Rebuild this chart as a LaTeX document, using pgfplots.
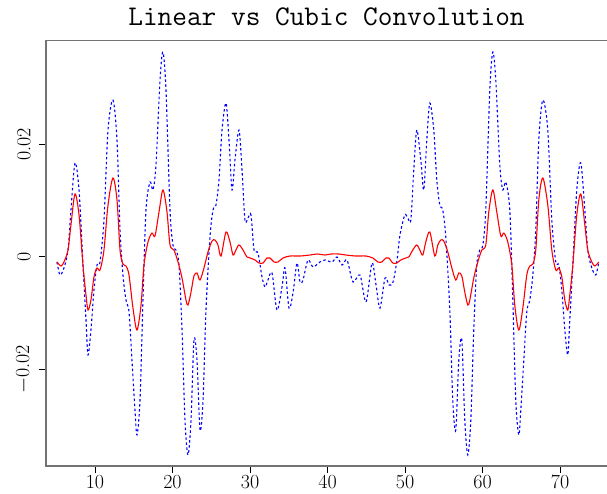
\documentclass[border=0pt]{standalone}
\usepackage{fontspec}
\usepackage{pgfplots}
\pgfplotsset{compat=1.18}
\begin{document}
\begin{tikzpicture}
\begin{axis}[
  name=ax,
  scale only axis,
  width=561pt, height=425.3pt,
  xmin=3.68, xmax=76.06,
  ymin=-0.03721, ymax=0.0384,
  axis line style={draw=none},
  tick pos=left,
  tick align=outside,
  major tick length=7pt,
  tick style={black, line width=0.9pt},
  xtick={10,20,30,40,50,60,70},
  ytick={-0.02,0,0.02},
  yticklabels={$-$0.02,0,0.02},
  scaled y ticks=false,
  /pgf/number format/assume math mode=true,
  ticklabel style={font=\fontsize{20}{24}\selectfont},
  xticklabel style={anchor=north, inner sep=0pt, yshift=-2pt},
  yticklabel style={xshift=-8pt, rotate=90, anchor=south, inner sep=0pt},
  clip=false,
]
\addplot[blue, line width=1.1pt, dash pattern=on 2.5pt off 2.5pt, smooth, tension=0.5] coordinates {
(5.10,-0.00094)(5.48,-0.00325)(6.00,-0.00201)(6.52,0.00119)(6.90,0.00830)(7.42,0.01666)(7.94,0.01186)(8.45,-0.00148)(8.84,-0.01125)(9.10,-0.01747)(9.48,-0.01303)(9.87,-0.00592)(10.26,-0.00148)(10.65,-0.00094)(11.16,0.00652)(11.68,0.02252)(12.32,0.02785)(12.84,0.02074)(13.23,0.00475)(13.61,-0.00325)(14.00,-0.00770)(14.39,-0.00983)(14.77,-0.01836)(15.16,-0.02725)(15.42,-0.03169)(15.81,-0.02548)(16.19,-0.00770)(16.58,0.00830)(17.10,0.01328)(17.48,0.01186)(17.87,0.01630)(18.39,0.03141)(18.77,0.03639)(19.16,0.02964)(19.68,0.00830)(20.06,0.00208)(20.45,0.00119)(20.84,-0.00148)(21.23,-0.01303)(21.61,-0.02903)(22.00,-0.03525)(22.39,-0.02903)(22.77,-0.01481)(23.16,-0.01836)(23.55,-0.03080)(23.94,-0.02548)(24.32,-0.00948)(24.84,0.00350)(25.23,0.00830)(25.61,0.00919)(26.00,0.01363)(26.39,0.02252)(26.90,0.02732)(27.29,0.02074)(27.68,0.01186)(28.06,0.01719)(28.58,0.02252)(28.97,0.01541)(29.35,0.00652)(29.74,0.00688)(30.13,0.00741)(30.52,0.00119)(31.03,0.00066)(31.55,-0.00361)(31.94,-0.00539)(32.32,-0.00414)(32.84,-0.00290)(33.48,-0.00948)(34.13,-0.00539)(34.52,-0.00201)(35.03,-0.00914)(35.55,-0.00645)(36.06,-0.00112)(36.45,-0.00450)(36.84,-0.00414)(37.48,-0.00059)(38.13,-0.00183)(39.03,-0.00094)(39.68,-0.00059)(40.58,-0.00094)(41.23,-0.00005)(41.87,-0.00148)(42.52,-0.00059)(43.29,-0.00450)(44.19,-0.00325)(44.97,-0.00805)(45.74,-0.00112)(46.26,-0.00503)(46.77,-0.00914)(47.42,-0.00379)(47.94,-0.00503)(48.45,-0.00450)(48.97,-0.00059)(49.35,0.00386)(49.97,0.00741)(50.36,0.00688)(50.75,0.00652)(51.13,0.01541)(51.52,0.02252)(52.04,0.01719)(52.42,0.01186)(52.81,0.02074)(53.20,0.02732)(53.71,0.02252)(54.10,0.01363)(54.49,0.00919)(54.87,0.00830)(55.26,0.00350)(55.78,-0.00948)(56.16,-0.02548)(56.55,-0.03080)(56.94,-0.01836)(57.33,-0.01481)(57.71,-0.02903)(58.10,-0.03525)(58.49,-0.02903)(58.87,-0.01303)(59.26,-0.00148)(59.65,0.00119)(60.04,0.00208)(60.42,0.00830)(60.94,0.02964)(61.33,0.03639)(61.71,0.03141)(62.23,0.01630)(62.62,0.01186)(63.00,0.01328)(63.52,0.00830)(63.91,-0.00770)(64.29,-0.02548)(64.68,-0.03169)(64.94,-0.02725)(65.33,-0.01836)(65.71,-0.00983)(66.10,-0.00770)(66.49,-0.00325)(66.87,0.00475)(67.26,0.02074)(67.78,0.02785)(68.42,0.02252)(68.94,0.00652)(69.45,-0.00094)(69.84,-0.00148)(70.23,-0.00592)(70.62,-0.01303)(71.00,-0.01747)(71.26,-0.01125)(71.65,-0.00148)(72.16,0.01186)(72.68,0.01666)(73.20,0.00830)(73.58,0.00119)(74.10,-0.00201)(74.62,-0.00325)(75.00,-0.00094)
};
\addplot[red, line width=1.1pt, smooth, tension=0.5] coordinates {
(5.10,-0.00094)(5.61,-0.00165)(6.00,-0.00094)(6.52,0.00119)(6.90,0.00564)(7.42,0.01115)(7.94,0.00741)(8.45,-0.00148)(8.84,-0.00681)(9.10,-0.00948)(9.48,-0.00770)(9.87,-0.00361)(10.26,-0.00201)(10.65,-0.00236)(11.16,0.00119)(11.68,0.00919)(12.32,0.01399)(12.84,0.01008)(13.23,0.00119)(13.61,-0.00130)(14.00,-0.00165)(14.39,-0.00325)(14.90,-0.00912)(15.42,-0.01303)(15.94,-0.00859)(16.32,-0.00148)(16.84,0.00261)(17.35,0.00421)(17.74,0.00368)(18.26,0.00795)(18.77,0.01186)(19.29,0.00795)(19.68,0.00208)(20.19,0.00119)(20.71,-0.00094)(21.23,-0.00379)(21.74,-0.00770)(22.00,-0.00859)(22.39,-0.00628)(22.77,-0.00343)(23.16,-0.00290)(23.55,-0.00414)(24.06,-0.00201)(24.58,0.00084)(25.10,0.00279)(25.48,0.00297)(25.87,0.00208)(26.26,0.00012)(26.90,0.00439)(27.42,0.00261)(27.81,0.00030)(28.19,0.00119)(28.58,0.00208)(29.10,0.00119)(29.61,-0.00005)(30.00,-0.00023)(30.65,-0.00059)(31.16,-0.00112)(31.68,-0.00112)(32.19,-0.00023)(32.58,-0.00023)(33.10,-0.00094)(33.61,-0.00094)(34.26,-0.00023)(35.16,0.00012)(36.45,0.00012)(37.74,0.00030)(38.65,0.00048)(39.68,0.00030)(40.45,0.00048)(41.45,0.00048)(42.36,0.00030)(43.65,0.00012)(44.94,0.00012)(45.84,-0.00023)(46.49,-0.00094)(47.00,-0.00094)(47.52,-0.00023)(47.91,-0.00023)(48.42,-0.00112)(48.94,-0.00112)(49.45,-0.00059)(50.10,-0.00023)(50.49,-0.00005)(51.00,0.00119)(51.52,0.00208)(51.91,0.00119)(52.29,0.00030)(52.68,0.00261)(53.20,0.00439)(53.84,0.00012)(54.23,0.00208)(54.62,0.00297)(55.00,0.00279)(55.52,0.00084)(56.04,-0.00201)(56.55,-0.00414)(56.94,-0.00290)(57.33,-0.00343)(57.71,-0.00628)(58.10,-0.00859)(58.36,-0.00770)(58.87,-0.00379)(59.39,-0.00094)(59.91,0.00119)(60.42,0.00208)(60.81,0.00795)(61.33,0.01186)(61.84,0.00795)(62.36,0.00368)(62.75,0.00421)(63.26,0.00261)(63.78,-0.00148)(64.16,-0.00859)(64.68,-0.01303)(65.20,-0.00912)(65.71,-0.00325)(66.10,-0.00165)(66.49,-0.00130)(66.87,0.00119)(67.26,0.01008)(67.78,0.01399)(68.42,0.00919)(68.94,0.00119)(69.45,-0.00236)(69.84,-0.00201)(70.23,-0.00361)(70.62,-0.00770)(71.00,-0.00948)(71.26,-0.00681)(71.65,-0.00148)(72.16,0.00741)(72.68,0.01115)(73.20,0.00564)(73.58,0.00119)(74.10,-0.00094)(74.49,-0.00165)(75.00,-0.00094)
};
\end{axis}
\draw[black!55, line width=1.3pt] (ax.south east) -- (ax.south west) -- (ax.north west) -- (ax.north east);
\node[anchor=base, inner sep=0pt, font=\ttfamily\fontsize{28.5}{32}\selectfont] at ([yshift=14.7pt]ax.north) {Linear vs Cubic Convolution};
\pgfresetboundingbox
\path ([xshift=-46pt, yshift=-28pt]ax.south west) rectangle ([yshift=40.7pt]ax.north east);
\end{tikzpicture}
\end{document}
